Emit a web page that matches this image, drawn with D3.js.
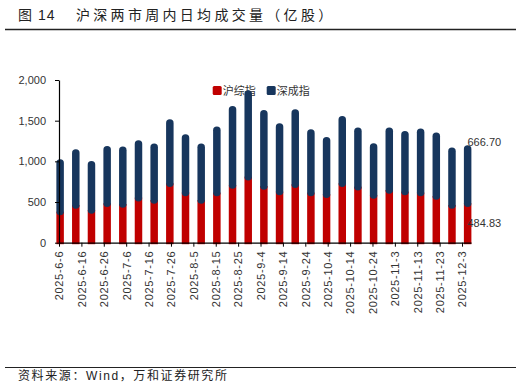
<!DOCTYPE html>
<html><head><meta charset="utf-8">
<script src="https://cdn.jsdelivr.net/npm/d3@7/dist/d3.min.js"></script>
<style>
body{margin:0;background:#fff;}
text{font-family:"Liberation Sans","Noto Sans CJK SC",sans-serif;}
</style></head>
<body><svg id="c" width="522" height="392"></svg>
<script>
// weekly dates (Fridays)
const startDate = "2025-06-06";
const weekCount = 27;
const shValues = [382,464,402,484,476,554,525,730,616,525,616,709,812,697,628,718,616,595,730,689,587,648,628,616,574,464,484.83];
const szValues = [598,639,557,659,659,659,647,741,671,647,765,926,1016,889,794,876,732,659,782,680,589,721,700,741,734,659,666.70];
const seriesNames = ["沪综指","深成指"];
const yTicks = [0,500,1000,1500,2000];
const lastLabels = ["666.70","484.83"];

const parse = d3.timeParse("%Y-%m-%d");
const d0 = parse(startDate);
const dates = d3.range(weekCount).map(i => d3.timeDay.offset(d0, 7*i));
const data = dates.map((d,i)=>({date:d, sh:shValues[i], sz:szValues[i]}));

const svg = d3.select("#c");
const x = d3.scaleTime().domain([d0, d3.timeDay.offset(d0,184)]).range([59,471]);
const y = d3.scaleLinear().domain([0,2000]).range([242.7,80]);

// title
svg.append("text").attr("x",18).attr("y",20).attr("font-size",14).attr("fill","#222")
  .attr("letter-spacing","1").text("图 14");
svg.append("text").attr("x",76).attr("y",20).attr("font-size",14).attr("fill","#222")
  .attr("letter-spacing","3.3").text("沪深两市周内日均成交量（亿股）");
svg.append("line").attr("x1",5).attr("x2",516).attr("y1",29.5).attr("y2",29.5)
  .attr("stroke","#222").attr("stroke-width",1.3);

// legend (behind bars)
const colors = ["#C00000","#17365D"];
const lg = svg.append("g");
[212.7,266.7].forEach((lx,i)=>{
  lg.append("rect").attr("x",lx).attr("y",86).attr("width",9).attr("height",9).attr("rx",1.5).attr("fill",colors[i]);
  lg.append("text").attr("x",lx+10).attr("y",94.5).attr("font-size",11).attr("fill","#333").text(seriesNames[i]);
});

// bars
const bw = 7.5;
const g = svg.append("g");
const cx = d => x(d3.timeHour.offset(d.date,12));
g.selectAll(".sh").data(data).join("rect")
  .attr("x",d=>cx(d)-bw/2).attr("width",bw)
  .attr("y",d=>y(d.sh)).attr("height",d=>y(0)-y(d.sh)+1.5)
  .attr("fill",colors[0]);
g.selectAll(".sz").data(data).join("line")
  .attr("x1",cx).attr("x2",cx)
  .attr("y1",d=>y(d.sh)).attr("y2",d=>y(d.sh+d.sz))
  .attr("stroke",colors[1]).attr("stroke-width",bw).attr("stroke-linecap","round");

// axes
const fmtDate = d => `${d.getFullYear()}-${d.getMonth()+1}-${d.getDate()}`;
const xTickDates = d3.range(19).map(i=>d3.timeDay.offset(d0,10*i));
const xa = svg.append("g").attr("transform",`translate(0,${y(0)})`)
  .call(d3.axisBottom(x).tickValues(xTickDates).tickSize(4).tickSizeOuter(0).tickFormat(fmtDate));
xa.select(".domain").attr("stroke","#000").attr("stroke-width",1.2);
xa.selectAll(".tick line").attr("stroke","#000");
xa.selectAll(".tick text").attr("font-size",11).attr("fill","#333").attr("letter-spacing","0.7")
  .attr("transform","rotate(-90)").attr("text-anchor","end")
  .attr("x",-8).attr("y",0).attr("dy","0.35em");

const ya = svg.append("g").attr("transform","translate(59,0)")
  .call(d3.axisLeft(y).tickValues(yTicks).tickSize(4).tickSizeOuter(0).tickFormat(d3.format(",")));
ya.select(".domain").attr("stroke","#000").attr("stroke-width",1.2);
ya.selectAll(".tick line").attr("stroke","#000");
ya.selectAll(".tick text").attr("font-size",11).attr("fill","#333").attr("x",-13);

// last value labels
svg.append("text").attr("x",467.5).attr("y",145.5).attr("font-size",11).attr("fill","#333").text(lastLabels[0]);
svg.append("text").attr("x",467.5).attr("y",226.5).attr("font-size",11).attr("fill","#333").text(lastLabels[1]);

// source
svg.append("line").attr("x1",5).attr("x2",516).attr("y1",367.5).attr("y2",367.5)
  .attr("stroke","#222").attr("stroke-width",1.2);
svg.append("text").attr("x",18).attr("y",380).attr("font-size",12).attr("fill","#222")
  .attr("letter-spacing","1.6").text("资料来源：Wind，万和证券研究所");
</script></body></html>
